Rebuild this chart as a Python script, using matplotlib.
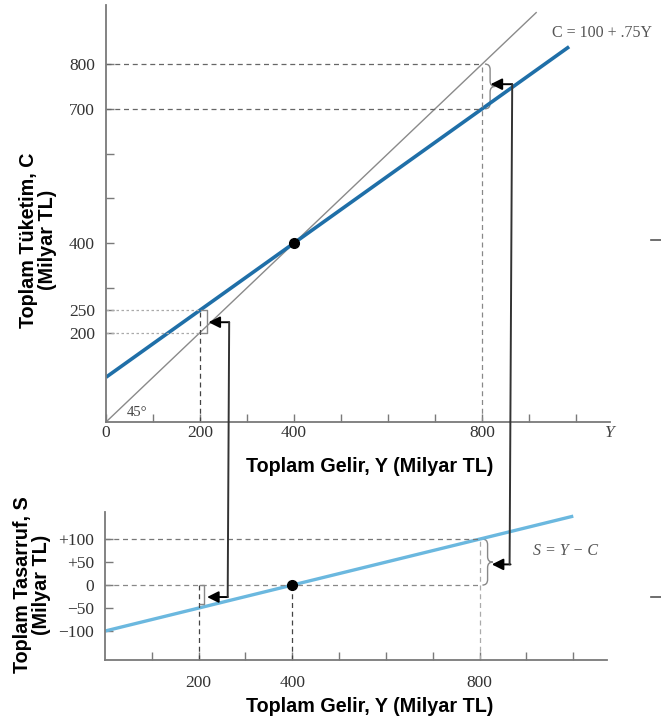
import matplotlib
matplotlib.use("Agg")
import matplotlib.pyplot as plt
from matplotlib.patches import ConnectionPatch
from matplotlib.path import Path
from matplotlib.patches import PathPatch
from matplotlib.lines import Line2D

# --- data ---
income_line = [0, 985]
consumption_line = [100, 838.75]       # C = 100 + .75Y
saving_income = [0, 1000]
saving_line = [-100, 150]              # S = Y - C
diag_line = [0, 915]                   # 45 degree line
equilibrium = (400, 400)
saving_zero = (400, 0)

top_yticks = [200, 250, 300, 400, 500, 600, 700, 800]
top_ylabels = ["200", "250", "", "400", "", "", "700", "800"]
x_ticks = [100, 200, 300, 400, 500, 600, 700, 800, 900, 1000]
top_xlabels = ["0", "200", "400", "800"]
top_xlabel_pos = [0, 200, 400, 800]
bot_yticks = [100, 50, 0, -50, -100]
bot_ylabels = ["+100", "+50", "0", "\u221250", "\u2212100"]
bot_xlabel_pos = [200, 400, 800]
bot_xlabels = ["200", "400", "800"]

W, H = 661, 725
DARK_BLUE = "#1f6fa8"
LIGHT_BLUE = "#6bb8df"
GRAY = "#7a7a7a"
SERIF = "Liberation Serif"
SANS = "Liberation Sans"
TICK_FS = 12.5
TITLE_FS = 14.2

fig = plt.figure(figsize=(W / 100, H / 100), dpi=100)


def px_axes(x0, y_top, x1, y_bot):
    return fig.add_axes([x0 / W, (H - y_bot) / H, (x1 - x0) / W, (y_bot - y_top) / H])


def style_axes(ax):
    for s in ["top", "right"]:
        ax.spines[s].set_visible(False)
    for s in ["left", "bottom"]:
        ax.spines[s].set_color(GRAY)
        ax.spines[s].set_linewidth(1.3)
    ax.tick_params(direction="in", length=6, width=1, color=GRAY,
                   labelsize=TICK_FS, labelcolor="#333333", pad=8)
    for lab in ax.get_yticklabels() + ax.get_xticklabels():
        lab.set_fontfamily(SERIF)


def brace(ax, x, y0, y1, w, color="#888888"):
    m = (y0 + y1) / 2
    h = (y1 - y0) * 0.12
    verts = [(x, y1), (x + w / 2, y1), (x + w / 2, y1 - h),
             (x + w / 2, m + h), (x + w / 2, m), (x + w, m),
             (x + w / 2, m), (x + w / 2, m - h),
             (x + w / 2, y0 + h), (x + w / 2, y0), (x, y0)]
    codes = [Path.MOVETO, Path.CURVE3, Path.CURVE3,
             Path.LINETO, Path.CURVE3, Path.CURVE3,
             Path.CURVE3, Path.CURVE3,
             Path.LINETO, Path.CURVE3, Path.CURVE3]
    ax.add_patch(PathPatch(Path(verts, codes), fill=False, ec=color, lw=1.0,
                           clip_on=False))


def square_bracket(ax, x, y0, y1, w, color="#888888"):
    ax.plot([x, x + w, x + w, x], [y1, y1, y0, y0], color=color, lw=1.0,
            clip_on=False)


arrow_kw = dict(arrowstyle="-|>", color="black", lw=1.4, mutation_scale=17,
                shrinkA=0, shrinkB=0)

# ---------------- top panel: consumption ----------------
ax = px_axes(106, 5, 610, 422)
ax.set_xlim(0, 1072)
ax.set_ylim(0, 932)

ax.plot([0, diag_line[1]], diag_line, color="#8a8a8a", lw=1.0)
ax.plot(income_line, consumption_line, color=DARK_BLUE, lw=2.6,
        solid_capstyle="butt")
ax.plot(*equilibrium, "o", color="black", ms=7)

# guide lines
ax.plot([0, 800], [800, 800], ls=(0, (4, 3)), color="#666666", lw=0.9)
ax.plot([0, 800], [700, 700], ls=(0, (4, 3)), color="#666666", lw=0.9)
ax.plot([800, 800], [0, 800], ls=(0, (4, 3)), color="#888888", lw=0.9)
ax.plot([0, 200], [250, 250], ls=(0, (2, 2)), color="#aaaaaa", lw=0.9)
ax.plot([0, 200], [200, 200], ls=(0, (2, 2)), color="#aaaaaa", lw=0.9)
ax.plot([200, 200], [0, 250], ls=(0, (4, 3)), color="#444444", lw=0.9)

brace(ax, 806, 700, 800, 22)
square_bracket(ax, 203, 200, 250, 12)

ax.annotate("", xy=(818, 755), xytext=(864, 755), arrowprops=arrow_kw)
ax.annotate("", xy=(218, 223), xytext=(262, 223), arrowprops=arrow_kw)

ax.set_yticks(top_yticks)
ax.set_yticklabels(top_ylabels)
ax.set_xticks(x_ticks + [0])
ax.set_xticklabels([])
style_axes(ax)
for v, t in zip(top_xlabel_pos, top_xlabels):
    ax.text(v, -24, t, ha="center", va="center", fontsize=TICK_FS,
            family=SERIF, color="#333333")
ax.text(1072, -24, "Y", ha="center", va="center", fontsize=TICK_FS,
        family=SERIF, style="italic", color="#444444")
ax.text(45, 22, "45\u00b0", ha="left", va="center", fontsize=10.5,
        family=SERIF, color="#444444")

fig.text(552 / W, 1 - 33 / H, "C = 100 + .75Y", fontsize=11.5, family=SERIF,
         color="#555555", ha="left", va="center")

# ---------------- bottom panel: saving ----------------
bx = px_axes(105, 512, 607, 660)
bx.set_xlim(0, 1072)
bx.set_ylim(-163, 159)

bx.plot(saving_income, saving_line, color=LIGHT_BLUE, lw=2.4,
        solid_capstyle="butt")
bx.plot(*saving_zero, "o", color="black", ms=7, zorder=5)

bx.plot([0, 800], [100, 100], ls=(0, (4, 3)), color="#777777", lw=0.9)
bx.plot([0, 800], [0, 0], ls=(0, (4, 3)), color="#888888", lw=0.9)
bx.plot([800, 800], [-163, 100], ls=(0, (4, 3)), color="#aaaaaa", lw=0.9)
bx.plot([200, 200], [-163, 0], ls=(0, (4, 3)), color="#444444", lw=0.9)
bx.plot([400, 400], [-163, 0], ls=(0, (4, 3)), color="#444444", lw=0.9)

brace(bx, 806, 0, 100, 22)
square_bracket(bx, 203, -42, 0, 8)

bx.annotate("", xy=(826, 45), xytext=(866, 45), arrowprops=arrow_kw)
bx.annotate("", xy=(218, -26), xytext=(262, -26), arrowprops=arrow_kw)

bx.set_yticks(bot_yticks)
bx.set_yticklabels(bot_ylabels)
bx.set_xticks(x_ticks)
bx.set_xticklabels([])
style_axes(bx)
for v, t in zip(bot_xlabel_pos, bot_xlabels):
    bx.text(v, -212, t, ha="center", va="center", fontsize=TICK_FS,
            family=SERIF, color="#333333")

bx.text(915, 75, "S = Y \u2212 C", fontsize=11.5, family=SERIF, style="italic",
        color="#555555", ha="left", va="center")

# connectors between panels
for xa, ya, yb in [(262, 223, -26), (864, 755, 45)]:
    con = ConnectionPatch(xyA=(xa, ya), coordsA=ax.transData,
                          xyB=(xa, yb), coordsB=bx.transData,
                          color="#333333", lw=1.4)
    fig.add_artist(con)

# axis titles
fig.text(370 / W, 1 - 466 / H, "Toplam Gelir, Y (Milyar TL)", fontsize=TITLE_FS,
         family=SANS, weight="bold", ha="center", va="center")
fig.text(370 / W, 1 - 706 / H, "Toplam Gelir, Y (Milyar TL)", fontsize=TITLE_FS,
         family=SANS, weight="bold", ha="center", va="center")
fig.text(38 / W, 1 - 240 / H, "Toplam T\u00fcketim, C\n(Milyar TL)",
         fontsize=TITLE_FS, family=SANS, weight="bold", rotation=90,
         ha="center", va="center", linespacing=1.0)
fig.text(32 / W, 1 - 585 / H, "Toplam Tasarruf, S\n(Milyar TL)",
         fontsize=TITLE_FS, family=SANS, weight="bold", rotation=90,
         ha="center", va="center", linespacing=1.0)

# stray scan marks at the right edge
for yy in [240, 597]:
    fig.add_artist(Line2D([651 / W, 661 / W], [1 - yy / H, 1 - yy / H],
                          color="#555555", lw=1.2))

fig.savefig("out.png", dpi=100)
